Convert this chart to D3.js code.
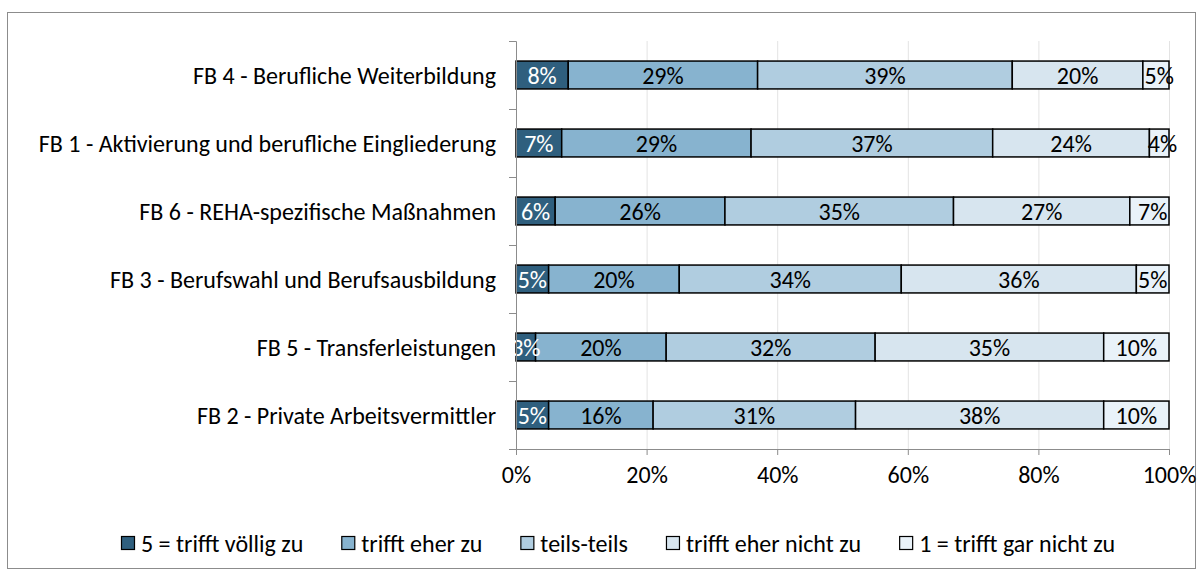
<!DOCTYPE html>
<html>
<head>
<meta charset="utf-8">
<script src="https://cdn.jsdelivr.net/npm/d3@7"></script>
<style>
  body { margin: 0; background: #fff; }
  svg text { font-family: Carlito, Calibri, Lato, sans-serif; }
</style>
</head>
<body>
<svg id="chart" width="1202" height="574"></svg>
<script>
const categories = [
	"FB 4 - Berufliche Weiterbildung",
	"FB 1 - Aktivierung und berufliche Eingliederung",
	"FB 6 - REHA-spezifische Maßnahmen",
	"FB 3 - Berufswahl und Berufsausbildung",
	"FB 5 - Transferleistungen",
	"FB 2 - Private Arbeitsvermittler"
];
const seriesNames = [
	"5 = trifft völlig zu",
	"trifft eher zu",
	"teils-teils",
	"trifft eher nicht zu",
	"1 = trifft gar nicht zu"
];
// percent per category, in series order
const values = [
	[8, 29, 39, 20, 5],
	[7, 29, 37, 24, 4],
	[6, 26, 35, 27, 7],
	[5, 20, 34, 36, 5],
	[3, 20, 32, 35, 10],
	[5, 16, 31, 38, 10]
];
const xTicks = [0, 20, 40, 60, 80, 100];
const colors = ["#2f5f7e", "#87b3cf", "#b0cde0", "#d7e5ef", "#e9f2f9"];

const svg = d3.select("svg#chart");
const margin = { top: 41, right: 33, bottom: 125, left: 516 };
const width = +svg.attr("width");
const height = +svg.attr("height");
const chartWidth = width - margin.left - margin.right;
const chartHeight = height - margin.top - margin.bottom;
const fontSize = "24px";

svg.append("rect")
	.attr("x", 7.5).attr("y", 12.5)
	.attr("width", 1188).attr("height", 556)
	.attr("fill", "#fff").attr("stroke", "#8c8c8c");

const g = svg.append("g").attr("transform", `translate(${margin.left},${margin.top})`);

const x = d3.scaleLinear([0, 100], [0, chartWidth]);
const xc = x.copy().clamp(true);
const y = d3.scaleBand(categories, [0, chartHeight]).paddingInner(0.59).paddingOuter(0.295);
const yIdx = d3.scaleLinear([0, categories.length], [0, chartHeight]);

// grid
g.append("g")
	.attr("class", "grid")
	.call(d3.axisBottom(x).tickValues(xTicks.slice(1)).tickSize(chartHeight).tickFormat(""))
	.call((a) => a.select(".domain").remove())
	.selectAll("line").attr("stroke", "#e3e3e3");

// stacked rows
const rows = categories.map((c, i) => {
	let acc = 0;
	return values[i].map((v, j) => {
		const d = { cat: c, s: j, v, x0: acc, x1: acc + v };
		acc += v;
		return d;
	});
});

const rowG = g.selectAll(".row").data(rows).join("g").attr("class", "row");
rowG.selectAll("rect")
	.data((d) => d)
	.join("rect")
	.attr("x", (d) => xc(d.x0))
	.attr("width", (d) => xc(d.x1) - xc(d.x0))
	.attr("y", (d) => y(d.cat))
	.attr("height", y.bandwidth())
	.attr("fill", (d) => colors[d.s])
	.attr("stroke", "#000")
	.attr("stroke-width", 1.5);

// axes
g.append("g")
	.call(d3.axisLeft(yIdx).ticks(categories.length).tickSizeInner(7).tickSizeOuter(7).tickFormat(""))
	.call((a) => a.selectAll("line,path").attr("stroke", "#8c8c8c"));

g.append("g")
	.attr("transform", `translate(0,${chartHeight})`)
	.call(d3.axisBottom(x).tickValues(xTicks).tickSizeInner(6).tickSizeOuter(6).tickFormat((d) => d + "%"))
	.call((a) => a.selectAll("line,path").attr("stroke", "#8c8c8c"))
	.call((a) => a.selectAll("text").attr("fill", "#000").style("font-size", fontSize).attr("dy", "1.05em"));

rowG.selectAll("text.val")
	.data((d) => d)
	.join("text")
	.attr("class", "val")
	.attr("x", (d) => x((d.x0 + d.x1) / 2))
	.attr("y", (d) => y(d.cat) + y.bandwidth() / 2)
	.attr("dy", "0.36em")
	.attr("text-anchor", "middle")
	.style("font-size", fontSize)
	.attr("fill", (d) => (d.s === 0 ? "#fff" : "#000"))
	.text((d) => d.v + "%");

// category labels
g.selectAll("text.cat")
	.data(categories)
	.join("text")
	.attr("class", "cat")
	.attr("x", -20)
	.attr("y", (d) => y(d) + y.bandwidth() / 2)
	.attr("dy", "0.36em")
	.attr("text-anchor", "end")
	.style("font-size", fontSize)
	.text((d) => d);

// legend
const legend = svg.append("g").attr("transform", "translate(121,543)");
let lx = 0;
seriesNames.forEach((name, i) => {
	const item = legend.append("g").attr("transform", `translate(${lx},0)`);
	item.append("rect")
		.attr("x", 0.5).attr("y", -6.5)
		.attr("width", 13).attr("height", 13)
		.attr("fill", colors[i]).attr("stroke", "#000").attr("stroke-width", 1.2);
	const t = item.append("text")
		.attr("x", 20).attr("dy", "0.36em")
		.style("font-size", fontSize)
		.text(name);
	lx += 20 + t.node().getComputedTextLength() + 38;
});
</script>
</body>
</html>
